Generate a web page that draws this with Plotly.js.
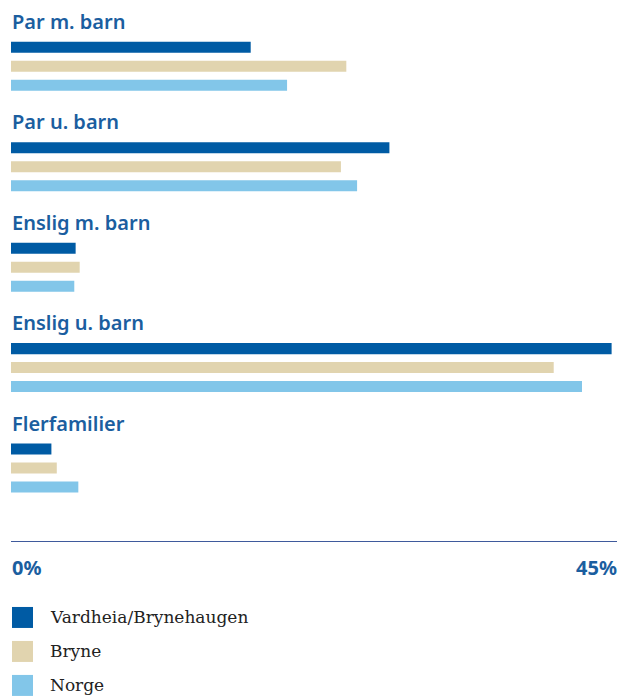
<!DOCTYPE html>
<html>
<head>
<meta charset="utf-8">
<script src="https://cdn.plot.ly/plotly-3.0.1.min.js"></script>
<style>html,body{margin:0;padding:0;background:#fff;}#chart{width:630px;height:696px;}</style>
</head>
<body>
<div id="chart"></div>
<script>
const categories = ["Par m. barn", "Par u. barn", "Enslig m. barn", "Enslig u. barn", "Flerfamilier"];
const seriesNames = ["Vardheia/Brynehaugen", "Bryne", "Norge"];
const vardheia = [17.8, 28.1, 4.8, 44.6, 3.0];
const bryne = [24.9, 24.5, 5.1, 40.3, 3.4];
const norge = [20.5, 25.7, 4.7, 42.4, 5.0];
const tickLabels = ["0%", "45%"];
const xMax = 45;

const colors = ["#005ba4", "#e1d4af", "#82c6e9"];
const titleColor = "#1b5e9f";

const W = 630, H = 696;
const plotLeft = 11, plotRight = 617, plotTop = 15.75, plotBottom = 541;
const pw = plotRight - plotLeft, ph = plotBottom - plotTop;
const px = p => (p - plotLeft) / pw;
const py = p => (plotBottom - p) / ph;

const values = [vardheia, bryne, norge];
const traces = values.map((v, i) => ({
  type: "bar",
  orientation: "h",
  name: seriesNames[i],
  x: v,
  y: categories,
  marker: {color: colors[i], line: {width: 0}},
  showlegend: false,
  hoverinfo: "x+name"
}));

const annotations = categories.map(c => ({
  text: c, xref: "paper", yref: "y", x: 0, y: c,
  xanchor: "left", yanchor: "middle", yshift: 45, xshift: -1, showarrow: false,
  font: {family: "Noto Sans", size: 20, weight: 600, color: titleColor}
}));
annotations.push({
  text: tickLabels[0], xref: "x", yref: "paper", x: 0, y: py(568),
  xanchor: "left", yanchor: "middle", xshift: -1, showarrow: false,
  font: {family: "Noto Sans", size: 20, weight: 700, color: titleColor}
});
annotations.push({
  text: tickLabels[1], xref: "x", yref: "paper", x: xMax, y: py(568),
  xanchor: "right", yanchor: "middle", xshift: 2, showarrow: false,
  font: {family: "Noto Sans", size: 20, weight: 700, color: titleColor}
});

const shapes = [];
const legendRows = [617.5, 651.5, 685.5];
seriesNames.forEach((n, i) => {
  const cy = legendRows[i];
  shapes.push({type: "rect", xref: "paper", yref: "paper",
    x0: px(12), x1: px(33), y0: py(cy - 10.5), y1: py(cy + 10.5),
    fillcolor: colors[i], line: {width: 0}});
  annotations.push({text: n, xref: "paper", yref: "paper", x: px(48), y: py(cy),
    xanchor: "left", yanchor: "middle", showarrow: false,
    font: {family: "DejaVu Serif", size: 17, color: "#222222"}});
});

const layout = {
  width: W, height: H,
  margin: {l: plotLeft, r: W - plotRight, t: plotTop, b: H - plotBottom, pad: 0},
  paper_bgcolor: "#ffffff", plot_bgcolor: "#ffffff",
  barmode: "group",
  bargap: 0.433,
  bargroupgap: 0.42,
  showlegend: false,
  xaxis: {range: [0, xMax], showgrid: false, zeroline: false, showticklabels: false,
    ticks: "", showline: true, linecolor: "#3f5a9c", linewidth: 1.2, fixedrange: true},
  yaxis: {type: "category", range: [4.726, -0.5], showgrid: false, zeroline: false,
    showticklabels: false, ticks: "", showline: false, fixedrange: true},
  annotations: annotations,
  shapes: shapes
};

Plotly.newPlot("chart", traces, layout, {displayModeBar: false, staticPlot: true});
</script>
</body>
</html>
